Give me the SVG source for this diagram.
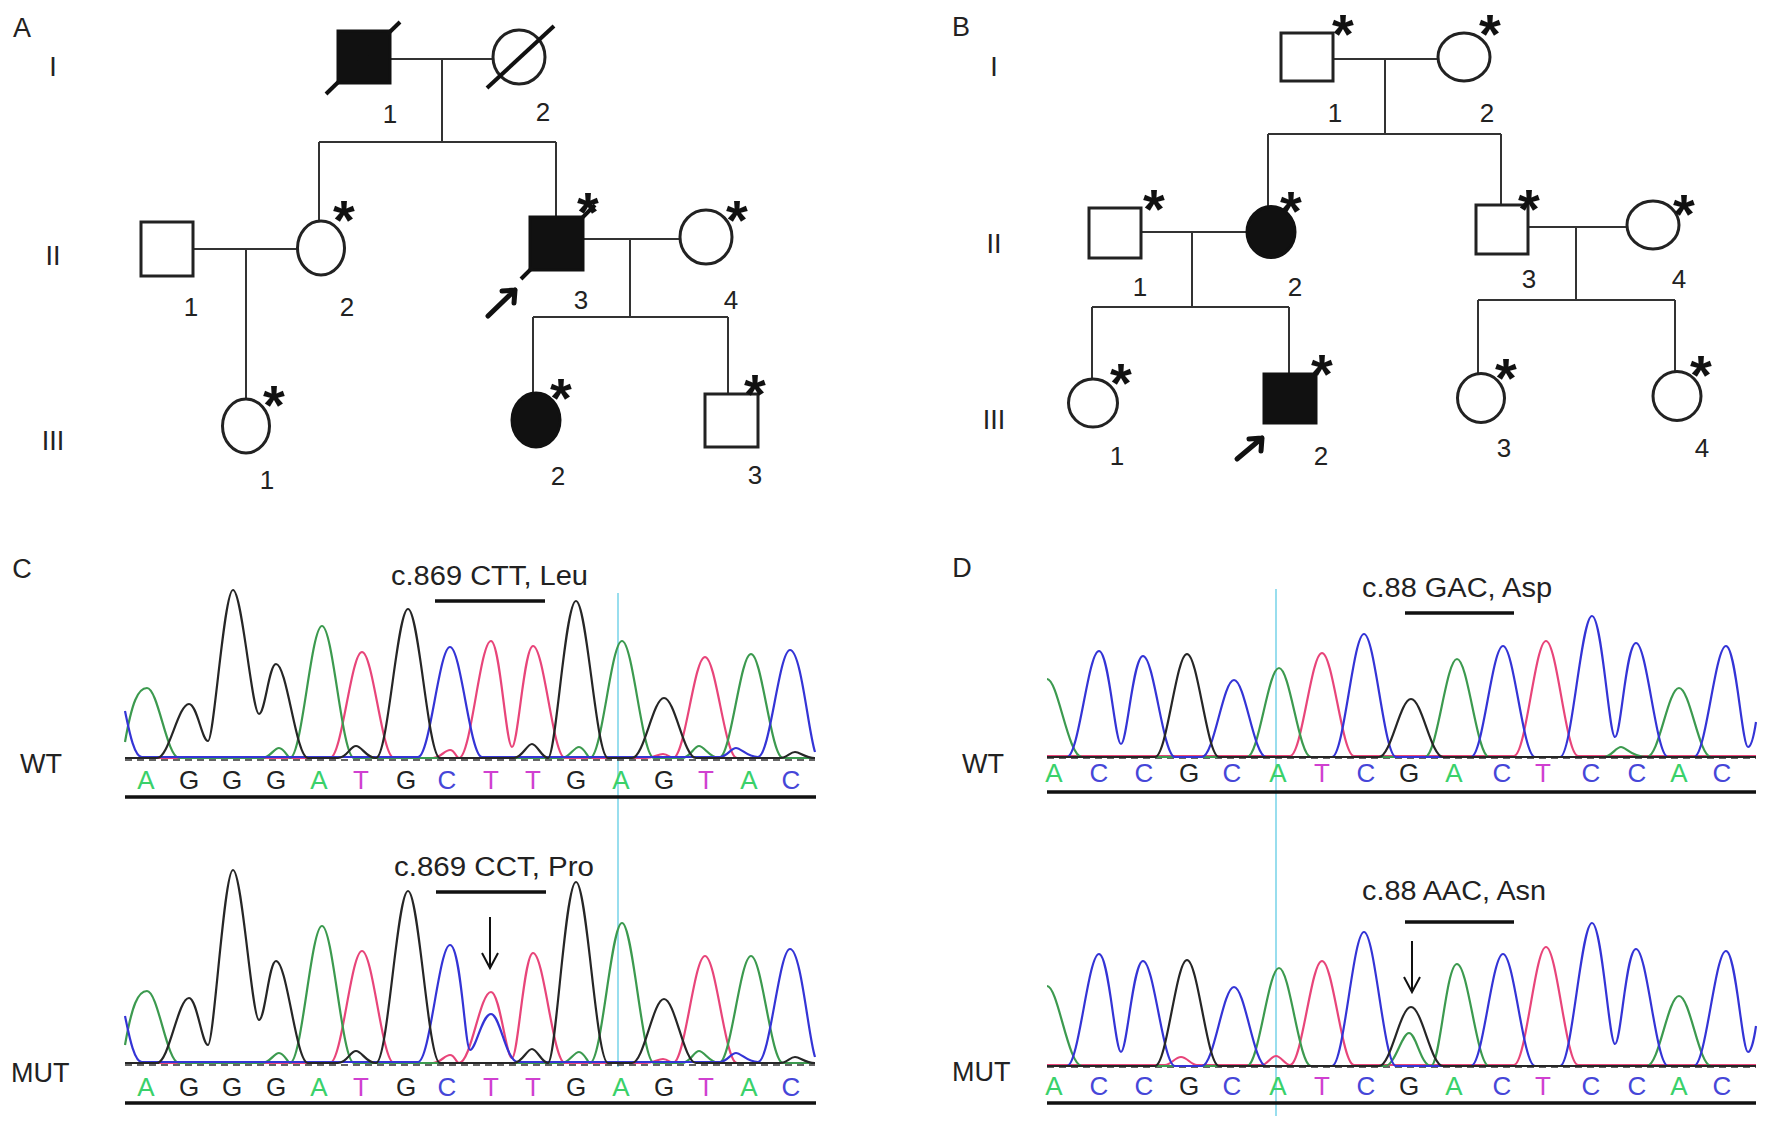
<svg xmlns="http://www.w3.org/2000/svg" width="1768" height="1130" viewBox="0 0 1768 1130">
<style>
.t{font-family:"Liberation Sans",Arial,sans-serif;fill:#222}
.lbl{font-size:26px;text-anchor:middle}
.pl{font-size:27px;text-anchor:middle}
.star{font-size:56px;font-weight:bold;text-anchor:middle;fill:#111}
.ln{stroke:#333;stroke-width:2;fill:none}
.sym{stroke:#222;stroke-width:3;fill:#fff}
.aff{stroke:#111;stroke-width:3;fill:#111}
.slash{stroke:#111;stroke-width:4;fill:none}
.arr{stroke:#111;stroke-width:5;fill:none;stroke-linecap:round;stroke-linejoin:round}
.bar{stroke:#111;stroke-width:3.5}
.tr{fill:none;stroke-width:2.2;stroke-linejoin:round}
.g{stroke:#3c9a4f}.r{stroke:#e8457a}.b{stroke:#3434d6}.k{stroke:#262626}
.nz{fill:none;stroke:#333;stroke-width:1.6;stroke-dasharray:7 5}
.cy{stroke:#7fd6ea;stroke-width:1.6}
.bl{font-size:26px;text-anchor:middle}
.bA{fill:#3ad16a}.bC{fill:#4646d8}.bG{fill:#222}.bT{fill:#d040d0}
.mut{font-size:27px}
.sm{stroke:#111;stroke-width:2;fill:none}
</style>
<rect width="1768" height="1130" fill="#fff"/>

<!-- ================= PANEL A ================= -->
<g id="panelA-labels">
<text class="t pl" x="22" y="37">A</text>
<text class="t pl" x="53" y="76">I</text>
<text class="t pl" x="53" y="265">II</text>
<text class="t pl" x="53" y="450">III</text>
</g>
<g id="connectors-A">
<line class="ln" x1="390" y1="59" x2="493" y2="59"/>
<line class="ln" x1="442" y1="59" x2="442" y2="142"/>
<line class="ln" x1="319" y1="142" x2="556" y2="142"/>
<line class="ln" x1="319" y1="142" x2="319" y2="221"/>
<line class="ln" x1="556" y1="142" x2="556" y2="216"/>
<line class="ln" x1="193" y1="249" x2="297" y2="249"/>
<line class="ln" x1="246" y1="249" x2="246" y2="399"/>
<line class="ln" x1="583" y1="239" x2="680" y2="239"/>
<line class="ln" x1="630" y1="239" x2="630" y2="317"/>
<line class="ln" x1="533" y1="317" x2="728" y2="317"/>
<line class="ln" x1="533" y1="317" x2="533" y2="393"/>
<line class="ln" x1="728" y1="317" x2="728" y2="394"/>
</g>
<g id="A-I-1">
<rect class="aff" x="338" y="31" width="52" height="52"/>
<line class="slash" x1="326" y1="94" x2="400" y2="22"/>
<text class="t lbl" x="390" y="123">1</text>
</g>
<g id="A-I-2">
<ellipse class="sym" cx="519" cy="57" rx="26" ry="27"/>
<line class="slash" x1="487" y1="88" x2="554" y2="26"/>
<text class="t lbl" x="543" y="121">2</text>
</g>
<g id="A-II-1">
<rect class="sym" x="141" y="222" width="52" height="54"/>
<text class="t lbl" x="191" y="316">1</text>
</g>
<g id="A-II-2">
<ellipse class="sym" cx="321" cy="248" rx="23.5" ry="27"/>
<text class="t star" x="344" y="239">*</text>
<text class="t lbl" x="347" y="316">2</text>
</g>
<g id="A-II-3">
<rect class="aff" x="530" y="217" width="53" height="53"/>
<line class="slash" x1="521" y1="279" x2="595" y2="205"/>
<text class="t star" x="588" y="231">*</text>
<path class="arr" d="M488,316 L515,290 M502,291 L515,290 L514,303"/>
<text class="t lbl" x="581" y="309">3</text>
</g>
<g id="A-II-4">
<ellipse class="sym" cx="706" cy="237" rx="26" ry="27"/>
<text class="t star" x="737" y="239">*</text>
<text class="t lbl" x="731" y="309">4</text>
</g>
<g id="A-III-1">
<ellipse class="sym" cx="246" cy="426" rx="23.5" ry="27"/>
<text class="t star" x="274" y="424">*</text>
<text class="t lbl" x="267" y="489">1</text>
</g>
<g id="A-III-2">
<ellipse class="aff" cx="536" cy="420" rx="24" ry="27"/>
<text class="t star" x="561" y="417">*</text>
<text class="t lbl" x="558" y="485">2</text>
</g>
<g id="A-III-3">
<rect class="sym" x="705" y="394" width="53" height="53"/>
<text class="t star" x="755" y="413">*</text>
<text class="t lbl" x="755" y="484">3</text>
</g>

<!-- ================= PANEL B ================= -->
<g id="panelB-labels">
<text class="t pl" x="961" y="36">B</text>
<text class="t pl" x="994" y="76">I</text>
<text class="t pl" x="994" y="253">II</text>
<text class="t pl" x="994" y="429">III</text>
</g>
<g id="connectors-B">
<line class="ln" x1="1333" y1="59" x2="1438" y2="59"/>
<line class="ln" x1="1385" y1="59" x2="1385" y2="134"/>
<line class="ln" x1="1268" y1="134" x2="1501" y2="134"/>
<line class="ln" x1="1268" y1="134" x2="1268" y2="207"/>
<line class="ln" x1="1501" y1="134" x2="1501" y2="205"/>
<line class="ln" x1="1141" y1="232" x2="1247" y2="232"/>
<line class="ln" x1="1192" y1="232" x2="1192" y2="307"/>
<line class="ln" x1="1092" y1="307" x2="1289" y2="307"/>
<line class="ln" x1="1092" y1="307" x2="1092" y2="379"/>
<line class="ln" x1="1289" y1="307" x2="1289" y2="374"/>
<line class="ln" x1="1528" y1="227" x2="1627" y2="227"/>
<line class="ln" x1="1576" y1="227" x2="1576" y2="300"/>
<line class="ln" x1="1478" y1="300" x2="1675" y2="300"/>
<line class="ln" x1="1478" y1="300" x2="1478" y2="374"/>
<line class="ln" x1="1675" y1="300" x2="1675" y2="371"/>
</g>
<g id="B-I-1">
<rect class="sym" x="1281" y="33" width="52" height="48"/>
<text class="t star" x="1343" y="53">*</text>
<text class="t lbl" x="1335" y="122">1</text>
</g>
<g id="B-I-2">
<ellipse class="sym" cx="1464" cy="57" rx="26" ry="24"/>
<text class="t star" x="1490" y="53">*</text>
<text class="t lbl" x="1487" y="122">2</text>
</g>
<g id="B-II-1">
<rect class="sym" x="1089" y="208" width="52" height="50"/>
<text class="t star" x="1154" y="228">*</text>
<text class="t lbl" x="1140" y="296">1</text>
</g>
<g id="B-II-2">
<ellipse class="aff" cx="1271" cy="232" rx="24" ry="25.5"/>
<text class="t star" x="1291" y="230">*</text>
<text class="t lbl" x="1295" y="296">2</text>
</g>
<g id="B-II-3">
<rect class="sym" x="1476" y="205" width="52" height="49"/>
<text class="t star" x="1529" y="228">*</text>
<text class="t lbl" x="1529" y="288">3</text>
</g>
<g id="B-II-4">
<ellipse class="sym" cx="1653" cy="225" rx="26" ry="24"/>
<text class="t star" x="1684" y="233">*</text>
<text class="t lbl" x="1679" y="288">4</text>
</g>
<g id="B-III-1">
<ellipse class="sym" cx="1093" cy="403" rx="24.5" ry="24"/>
<text class="t star" x="1121" y="402">*</text>
<text class="t lbl" x="1117" y="465">1</text>
</g>
<g id="B-III-2">
<rect class="aff" x="1264" y="374" width="52" height="49"/>
<text class="t star" x="1322" y="393">*</text>
<path class="arr" d="M1237,459 L1262,438 M1249,439 L1262,438 L1261,451"/>
<text class="t lbl" x="1321" y="465">2</text>
</g>
<g id="B-III-3">
<ellipse class="sym" cx="1481" cy="398" rx="23.5" ry="24.5"/>
<text class="t star" x="1506" y="397">*</text>
<text class="t lbl" x="1504" y="457">3</text>
</g>
<g id="B-III-4">
<ellipse class="sym" cx="1677" cy="396" rx="24" ry="24.5"/>
<text class="t star" x="1701" y="394">*</text>
<text class="t lbl" x="1702" y="457">4</text>
</g>

<!-- ================= PANEL C ================= -->
<g id="panelC">
<text class="t pl" x="22" y="578">C</text>
<text class="t mut" x="20" y="773">WT</text>
<text class="t mut" x="11" y="1082">MUT</text>
<line class="cy" x1="618" y1="593" x2="618" y2="1067"/>
<text class="t mut" x="391" y="585" textLength="197" lengthAdjust="spacingAndGlyphs">c.869 CTT, Leu</text>
<line class="bar" x1="435" y1="601" x2="545" y2="601"/>
<text class="t mut" x="394" y="876" textLength="200" lengthAdjust="spacingAndGlyphs">c.869 CCT, Pro</text>
<line class="bar" x1="436" y1="892" x2="546" y2="892"/>
<path class="sm" d="M490,917 L490,967 M482,953 L490,968 L498,953"/>
<path class="nz" d="M125,760 L815,760"/>
<path class="nz" d="M125,1065 L815,1065"/>
<!-- WT traces -->
<path class="tr r" d="M125,758 L330,758 C342,758 351,652 362,652 C373,652 382,758 394,758 L433,758 C440,758 445,750 450,750 C455,750 456,758 459,758 C471,758 480,641 491,641 C500,641 506,747 512,747 C518,747 524,646 533,646 C544,646 553,758 565,758 L646,758 C653,758 658,754 663,754 C668,754 670,758 673,758 C685,758 694,657 705,657 C716,657 725,758 737,758 L815,758"/>
<path class="tr g" d="M125,742 C132,702 138,688 147,688 C158,688 167,758 179,758 L262,758 C270,758 274,748 279,748 C284,748 288,758 290,758 C302,758 311,626 322,626 C333,626 342,758 354,758 L562,758 C569,758 574,747 579,747 C584,747 588,758 590,758 C602,758 611,641 622,641 C633,641 642,758 654,758 L682,758 C690,758 694,746 699,746 C704,746 710,758 719,758 C731,758 740,654 751,654 C762,654 771,758 783,758 L815,758"/>
<path class="tr b" d="M125,711 C129,730 134,757 142,757 L418,757 C430,757 439,647 450,647 C461,647 470,757 482,757 L720,757 C727,757 731,748 736,748 C741,748 747,757 758,757 C770,757 779,650 790,650 C801,650 808,730 815,752"/>
<path class="tr k" d="M125,758 L157,758 C169,758 178,704 189,704 C197,704 202,741 208,741 C214,741 224,590 233,590 C242,590 252,714 259,714 C265,714 269,664 276,664 C287,664 296,758 308,758 L338,758 C347,758 350,746 356,746 C362,746 366,758 376,758 C388,758 397,609 408,609 C419,609 428,758 440,758 L514,758 C522,758 527,744 532,744 C537,744 542,758 548,758 C556,758 565,601 576,601 C587,601 596,758 608,758 L632,758 C644,758 653,698 664,698 C675,698 684,758 696,758 L780,758 C787,758 790,752 795,752 C800,752 805,758 815,758"/>
<!-- MUT traces -->
<path class="tr r" d="M125,1063 L330,1063 C342,1063 351,951 362,951 C373,951 382,1063 394,1063 L433,1063 C440,1063 445,1055 450,1055 C455,1055 456,1063 459,1063 C471,1063 480,992 491,992 C500,992 506,1058 512,1058 C518,1058 524,953 533,953 C544,953 553,1063 565,1063 L646,1063 C653,1063 658,1059 663,1059 C668,1059 670,1063 673,1063 C685,1063 694,956 705,956 C716,956 725,1063 737,1063 L815,1063"/>
<path class="tr g" d="M125,1045 C132,1005 138,991 147,991 C158,991 167,1063 179,1063 L262,1063 C270,1063 274,1053 279,1053 C284,1053 288,1063 290,1063 C302,1063 311,926 322,926 C333,926 342,1063 354,1063 L562,1063 C569,1063 574,1052 579,1052 C584,1052 588,1063 590,1063 C602,1063 611,923 622,923 C633,923 642,1063 654,1063 L682,1063 C690,1063 694,1051 699,1051 C704,1051 710,1063 719,1063 C731,1063 740,956 751,956 C762,956 771,1063 783,1063 L815,1063"/>
<path class="tr b" d="M125,1016 C129,1035 134,1062 142,1062 L418,1062 C430,1062 439,945 450,945 C461,945 465,1050 470,1050 C476,1050 482,1014 491,1014 C500,1014 506,1062 518,1062 L720,1062 C727,1062 731,1053 736,1053 C741,1053 747,1062 758,1062 C770,1062 779,949 790,949 C801,949 808,1035 815,1057"/>
<path class="tr k" d="M125,1063 L157,1063 C169,1063 178,998 189,998 C197,998 202,1045 208,1045 C214,1045 224,870 233,870 C242,870 252,1020 259,1020 C265,1020 269,961 276,961 C287,961 296,1063 308,1063 L338,1063 C347,1063 350,1051 356,1051 C362,1051 366,1063 376,1063 C388,1063 397,891 408,891 C419,891 428,1063 440,1063 L514,1063 C522,1063 527,1049 532,1049 C537,1049 542,1063 548,1063 C556,1063 565,882 576,882 C587,882 596,1063 608,1063 L632,1063 C644,1063 653,999 664,999 C675,999 684,1063 696,1063 L780,1063 C787,1063 790,1057 795,1057 C800,1057 805,1063 815,1063"/>
<!-- base calls -->
<g class="t bl">
<text x="146" y="789" class="bA">A</text><text x="189" y="789" class="bG">G</text><text x="232" y="789" class="bG">G</text><text x="276" y="789" class="bG">G</text><text x="319" y="789" class="bA">A</text><text x="361" y="789" class="bT">T</text><text x="406" y="789" class="bG">G</text><text x="447" y="789" class="bC">C</text><text x="491" y="789" class="bT">T</text><text x="533" y="789" class="bT">T</text><text x="576" y="789" class="bG">G</text><text x="621" y="789" class="bA">A</text><text x="664" y="789" class="bG">G</text><text x="706" y="789" class="bT">T</text><text x="749" y="789" class="bA">A</text><text x="791" y="789" class="bC">C</text>
<text x="146" y="1096" class="bA">A</text><text x="189" y="1096" class="bG">G</text><text x="232" y="1096" class="bG">G</text><text x="276" y="1096" class="bG">G</text><text x="319" y="1096" class="bA">A</text><text x="361" y="1096" class="bT">T</text><text x="406" y="1096" class="bG">G</text><text x="447" y="1096" class="bC">C</text><text x="491" y="1096" class="bT">T</text><text x="533" y="1096" class="bT">T</text><text x="576" y="1096" class="bG">G</text><text x="621" y="1096" class="bA">A</text><text x="664" y="1096" class="bG">G</text><text x="706" y="1096" class="bT">T</text><text x="749" y="1096" class="bA">A</text><text x="791" y="1096" class="bC">C</text>
</g>
<line class="bar" x1="125" y1="797" x2="816" y2="797"/>
<line class="bar" x1="125" y1="1103" x2="816" y2="1103"/>
</g>

<!-- ================= PANEL D ================= -->
<g id="panelD">
<text class="t pl" x="962" y="577">D</text>
<text class="t mut" x="962" y="773">WT</text>
<text class="t mut" x="952" y="1081">MUT</text>
<line class="cy" x1="1276" y1="589" x2="1276" y2="1116"/>
<text class="t mut" x="1362" y="597" textLength="190" lengthAdjust="spacingAndGlyphs">c.88 GAC, Asp</text>
<line class="bar" x1="1405" y1="613" x2="1514" y2="613"/>
<text class="t mut" x="1362" y="900" textLength="184" lengthAdjust="spacingAndGlyphs">c.88 AAC, Asn</text>
<line class="bar" x1="1405" y1="922" x2="1514" y2="922"/>
<path class="sm" d="M1412,941 L1412,991 M1404,977 L1412,992 L1420,977"/>
<path class="nz" d="M1047,758 L1756,758"/>
<path class="nz" d="M1047,1067 L1756,1067"/>
<!-- WT traces -->
<path class="tr r" d="M1047,756 L1290,756 C1302,756 1311,653 1322,653 C1333,653 1342,756 1354,756 L1514,756 C1526,756 1535,641 1546,641 C1557,641 1566,756 1578,756 L1756,756"/>
<path class="tr g" d="M1047,679 C1058,679 1068,757 1082,757 L1247,757 C1259,757 1268,668 1279,668 C1290,668 1299,757 1311,757 L1425,757 C1437,757 1446,659 1457,659 C1468,659 1477,757 1489,757 L1604,757 C1611,757 1616,747 1621,747 C1626,747 1631,757 1647,757 C1659,757 1668,688 1679,688 C1690,688 1699,757 1711,757 L1756,757"/>
<path class="tr b" d="M1047,757 L1067,757 C1079,757 1088,651 1099,651 C1109,651 1115,744 1121,744 C1127,744 1133,656 1143,656 C1154,656 1163,757 1175,757 L1202,757 C1214,757 1223,680 1234,680 C1245,680 1254,757 1266,757 L1332,757 C1344,757 1353,634 1364,634 C1375,634 1384,757 1396,757 L1471,757 C1483,757 1492,646 1503,646 C1514,646 1523,757 1535,757 L1560,757 C1572,757 1581,616 1592,616 C1602,616 1609,737 1615,737 C1621,737 1626,643 1636,643 C1647,643 1656,757 1668,757 L1694,757 C1706,757 1715,646 1726,646 C1736,646 1742,747 1748,747 C1751,747 1754,735 1756,722"/>
<path class="tr k" d="M1047,757 L1155,757 C1167,757 1176,654 1187,654 C1198,654 1207,757 1219,757 L1379,757 C1391,757 1400,699 1411,699 C1422,699 1431,757 1443,757 L1756,757"/>
<!-- MUT traces -->
<path class="tr r" d="M1047,1065 L1165,1065 C1171,1065 1175,1057 1181,1057 C1187,1057 1191,1065 1197,1065 L1262,1065 C1267,1065 1271,1056 1276,1056 C1281,1056 1285,1065 1290,1065 C1302,1065 1311,961 1322,961 C1333,961 1342,1065 1354,1065 L1514,1065 C1526,1065 1535,947 1546,947 C1557,947 1566,1065 1578,1065 L1756,1065"/>
<path class="tr g" d="M1047,986 C1058,986 1068,1066 1082,1066 L1247,1066 C1259,1066 1268,968 1279,968 C1290,968 1299,1066 1311,1066 L1385,1066 C1395,1066 1402,1033 1409,1033 C1416,1033 1421,1066 1431,1066 C1440,1066 1446,964 1457,964 C1468,964 1477,1066 1489,1066 L1647,1066 C1659,1066 1668,996 1679,996 C1690,996 1699,1066 1711,1066 L1756,1066"/>
<path class="tr b" d="M1047,1066 L1067,1066 C1079,1066 1088,954 1099,954 C1109,954 1115,1052 1121,1052 C1127,1052 1133,961 1143,961 C1154,961 1163,1066 1175,1066 L1202,1066 C1214,1066 1223,987 1234,987 C1245,987 1254,1066 1266,1066 L1332,1066 C1344,1066 1353,932 1364,932 C1375,932 1384,1066 1396,1066 L1471,1066 C1483,1066 1492,954 1503,954 C1514,954 1523,1066 1535,1066 L1560,1066 C1572,1066 1581,923 1592,923 C1602,923 1609,1044 1615,1044 C1621,1044 1626,949 1636,949 C1647,949 1656,1066 1668,1066 L1694,1066 C1706,1066 1715,951 1726,951 C1736,951 1742,1052 1748,1052 C1751,1052 1754,1040 1756,1026"/>
<path class="tr k" d="M1047,1066 L1155,1066 C1167,1066 1176,960 1187,960 C1198,960 1207,1066 1219,1066 L1379,1066 C1391,1066 1400,1007 1411,1007 C1422,1007 1431,1066 1443,1066 L1756,1066"/>
<g class="t bl">
<text x="1054" y="782" class="bA">A</text><text x="1099" y="782" class="bC">C</text><text x="1144" y="782" class="bC">C</text><text x="1189" y="782" class="bG">G</text><text x="1232" y="782" class="bC">C</text><text x="1278" y="782" class="bA">A</text><text x="1322" y="782" class="bT">T</text><text x="1366" y="782" class="bC">C</text><text x="1409" y="782" class="bG">G</text><text x="1454" y="782" class="bA">A</text><text x="1502" y="782" class="bC">C</text><text x="1543" y="782" class="bT">T</text><text x="1591" y="782" class="bC">C</text><text x="1637" y="782" class="bC">C</text><text x="1679" y="782" class="bA">A</text><text x="1722" y="782" class="bC">C</text>
<text x="1054" y="1095" class="bA">A</text><text x="1099" y="1095" class="bC">C</text><text x="1144" y="1095" class="bC">C</text><text x="1189" y="1095" class="bG">G</text><text x="1232" y="1095" class="bC">C</text><text x="1278" y="1095" class="bA">A</text><text x="1322" y="1095" class="bT">T</text><text x="1366" y="1095" class="bC">C</text><text x="1409" y="1095" class="bG">G</text><text x="1454" y="1095" class="bA">A</text><text x="1502" y="1095" class="bC">C</text><text x="1543" y="1095" class="bT">T</text><text x="1591" y="1095" class="bC">C</text><text x="1637" y="1095" class="bC">C</text><text x="1679" y="1095" class="bA">A</text><text x="1722" y="1095" class="bC">C</text>
</g>
<line class="bar" x1="1047" y1="792" x2="1756" y2="792"/>
<line class="bar" x1="1047" y1="1103" x2="1756" y2="1103"/>
</g>
</svg>
